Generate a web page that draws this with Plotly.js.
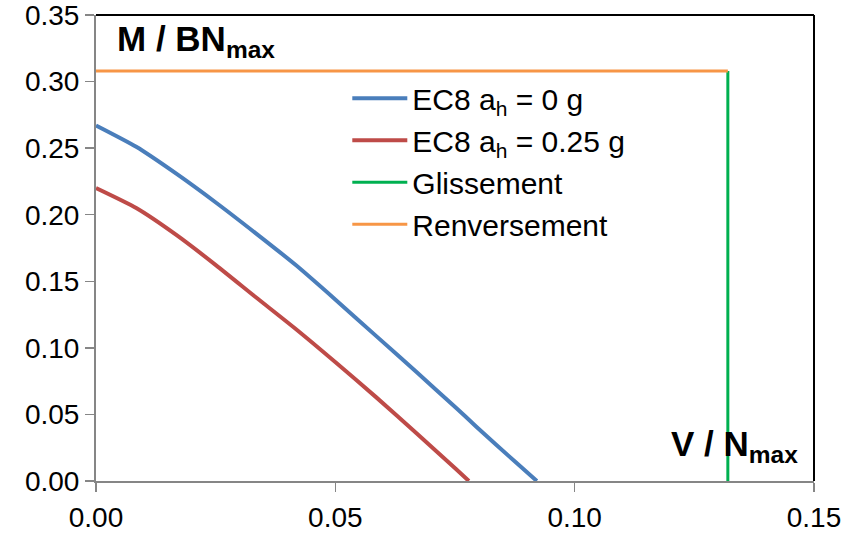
<!DOCTYPE html>
<html>
<head>
<meta charset="utf-8">
<script src="https://cdn.plot.ly/plotly-3.0.1.min.js"></script>
<style>html,body{margin:0;padding:0;background:#fff;}#chart{width:846px;height:534px;}</style>
</head>
<body>
<div id="chart"></div>
<script>
// EC8 a_h = 0 g
const blueX = [0, 0.0084, 0.0167, 0.0251, 0.0334, 0.0418, 0.0501, 0.0585, 0.0669, 0.0752, 0.0794, 0.0877, 0.0921];
const blueY = [0.267, 0.251, 0.231, 0.209, 0.186, 0.162, 0.136, 0.109, 0.082, 0.055, 0.041, 0.014, 0];
// EC8 a_h = 0.25 g
const redX = [0, 0.0084, 0.0167, 0.0251, 0.0334, 0.0418, 0.0501, 0.0585, 0.0669, 0.0752, 0.0779];
const redY = [0.220, 0.205, 0.185, 0.162, 0.138, 0.114, 0.089, 0.063, 0.036, 0.009, 0];
// Glissement
const glisX = [0.132, 0.132];
const glisY = [0, 0.308];
// Renversement
const renvX = [0, 0.132];
const renvY = [0.308, 0.308];

const seriesNames = ["EC8 a<sub>h</sub> = 0 g", "EC8 a<sub>h</sub> = 0.25 g", "Glissement", "Renversement"];
const xTicks = [0, 0.05, 0.10, 0.15];
const xTickText = ["0.00", "0.05", "0.10", "0.15"];
const yTicks = [0, 0.05, 0.10, 0.15, 0.20, 0.25, 0.30, 0.35];
const yTickText = ["0.00", "0.05", "0.10", "0.15", "0.20", "0.25", "0.30", "0.35"];

const FONT = "Liberation Sans, Arial, sans-serif";

const traces = [
  {x: blueX, y: blueY, name: seriesNames[0], mode: "lines", line: {color: "#4A7EBB", width: 4, shape: "spline", smoothing: 0.6}},
  {x: redX, y: redY, name: seriesNames[1], mode: "lines", line: {color: "#BE4B48", width: 4, shape: "spline", smoothing: 0.6}},
  {x: glisX, y: glisY, name: seriesNames[2], mode: "lines", line: {color: "#00B050", width: 3}},
  {x: renvX, y: renvY, name: seriesNames[3], mode: "lines", line: {color: "#F79646", width: 3}}
];

const layout = {
  width: 846, height: 534,
  margin: {l: 96, r: 32, t: 15, b: 53, pad: 0},
  paper_bgcolor: "#fff", plot_bgcolor: "#fff",
  font: {family: FONT, size: 28, color: "#000"},
  showlegend: true,
  legend: {
    x: 0.35, y: 0.877, xanchor: "left", yanchor: "top",
    bgcolor: "rgba(0,0,0,0)", borderwidth: 0,
    font: {family: FONT, size: 30, color: "#000"},
    itemwidth: 55, tracegroupgap: 0
  },
  xaxis: {
    range: [0, 0.15], tickvals: xTicks, ticktext: xTickText,
    showgrid: false, zeroline: false, showline: true, linecolor: "#868686", linewidth: 2,
    ticks: "outside", ticklen: 9, tickcolor: "#868686", tickwidth: 1.5,
    ticklabelstandoff: 1, ticklabeloverflow: "allow",
    tickfont: {family: FONT, size: 28, color: "#000"}, fixedrange: true
  },
  yaxis: {
    range: [0, 0.35], tickvals: yTicks, ticktext: yTickText,
    showgrid: false, zeroline: false, showline: true, linecolor: "#868686", linewidth: 2,
    ticks: "outside", ticklen: 9, tickcolor: "#868686", tickwidth: 1.5,
    ticklabeloverflow: "allow",
    tickfont: {family: FONT, size: 28, color: "#000"}, fixedrange: true
  },
  shapes: [
    {type: "line", xref: "paper", yref: "paper", x0: 0, x1: 1, y0: 1, y1: 1, line: {color: "#000", width: 2}},
    {type: "line", xref: "paper", yref: "paper", x0: 1, x1: 1, y0: 0, y1: 1, line: {color: "#000", width: 2}}
  ],
  annotations: [
    {xref: "paper", yref: "paper", x: 0.026, y: 0.995, xanchor: "left", yanchor: "top", showarrow: false,
     text: "<b>M / BN<sub>max</sub></b>", font: {family: FONT, size: 35, color: "#000"}},
    {xref: "paper", yref: "paper", x: 0.98, y: 0.024, xanchor: "right", yanchor: "bottom", showarrow: false,
     text: "<b>V / N<sub>max</sub></b>", font: {family: FONT, size: 35, color: "#000"}}
  ]
};

Plotly.newPlot("chart", traces, layout, {displayModeBar: false, staticPlot: true});
</script>
</body>
</html>
